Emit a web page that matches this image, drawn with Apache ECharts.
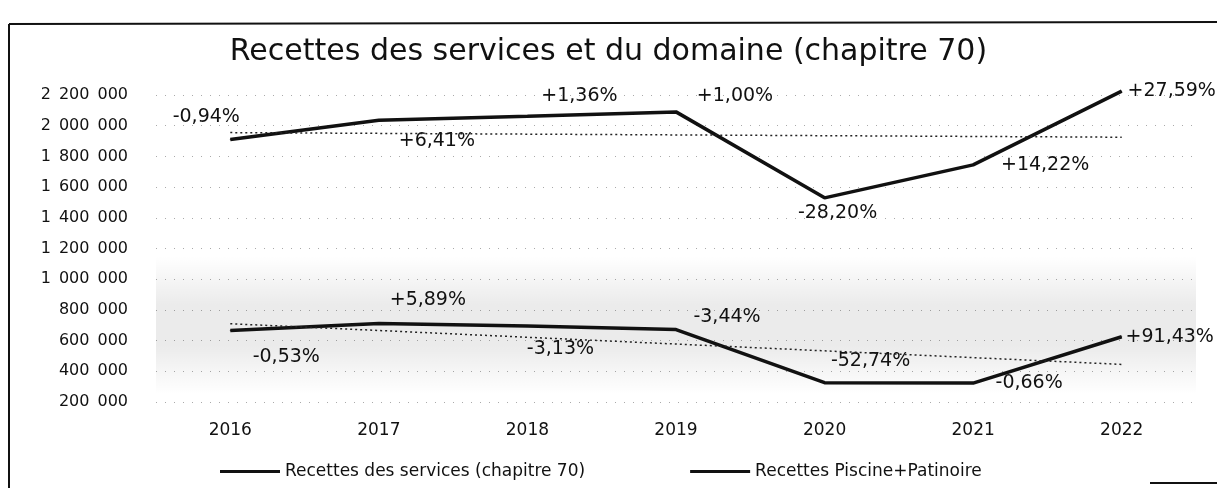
<!DOCTYPE html>
<html>
<head>
<meta charset="utf-8">
<script src="https://cdn.jsdelivr.net/npm/echarts@6/dist/echarts.min.js"></script>
<style>
  html, body { margin: 0; padding: 0; background: #fff; }
  #chart { width: 1217px; height: 488px; }
</style>
</head>
<body>
<div id="chart"></div>
<script>
// donnees
var annees = ['2016', '2017', '2018', '2019', '2020', '2021', '2022'];
var recettesServices = [1910000, 2035000, 2062000, 2090000, 1530000, 1745000, 2225000];
var recettesPiscine = [665000, 712000, 695000, 672000, 326000, 323000, 625000];
var pctServices = ['-0,94%', '+6,41%', '+1,36%', '+1,00%', '-28,20%', '+14,22%', '+27,59%'];
var pctPiscine = ['-0,53%', '+5,89%', '-3,13%', '-3,44%', '-52,74%', '-0,66%', '+91,43%'];
// courbes de tendance (debut 2016, fin 2022)
var tendanceServices = [1955000, 1925000];
var tendancePiscine = [710000, 445000];
var yTicks = [200000, 2200000, 200000]; // min, max, pas

// decalage des etiquettes (px)
var offServices = [[-24, -22], [58, 21], [52, -20], [59, -16], [13, 15], [72, 0], [50, 0]];
var offPiscine = [[56, 26], [49, -23], [33, 23], [51, -12], [46, -22], [56, 0], [48, 0]];

var FONT = 'DejaVu Sans';

function points(vals, pcts, offs) {
    return vals.map(function (v, i) {
        return {
            value: v,
            label: {
                show: true,
                formatter: pcts[i],
                position: 'inside',
                offset: offs[i]
            }
        };
    });
}

function fmt(v) {
    return String(v).replace(/\B(?=(\d{3})+(?!\d))/g, '\u2002');
}

var myChart = echarts.init(document.getElementById('chart'));

var bande = {
    type: 'linear', x: 0, y: 0, x2: 0, y2: 1,
    colorStops: [
        { offset: 0, color: 'rgba(0,0,0,0)' },
        { offset: 0.35, color: 'rgba(0,0,0,0.08)' },
        { offset: 0.65, color: 'rgba(0,0,0,0.08)' },
        { offset: 1, color: 'rgba(0,0,0,0)' }
    ]
};

var option = {
    backgroundColor: '#fff',
    animation: false,
    title: {
        text: 'Recettes des services et du domaine (chapitre 70)',
        left: 'center',
        top: 32,
        textStyle: { fontFamily: FONT, fontSize: 30, fontWeight: 'normal', color: '#111' }
    },
    grid: {
        left: 156,
        right: 21,
        top: 95,
        bottom: 86
    },
    legend: {
        data: ['Recettes des services (chapitre 70)', 'Recettes Piscine+Patinoire'],
        left: 215,
        top: 458,
        icon: 'rect',
        itemWidth: 60,
        itemHeight: 3,
        itemGap: 105,
        textStyle: { fontFamily: FONT, fontSize: 17, color: '#111' }
    },
    xAxis: [
        {
            type: 'category',
            data: annees,
            axisLine: { show: false },
            axisTick: { show: false },
            axisLabel: { fontFamily: FONT, fontSize: 17, color: '#111', margin: 20 }
        }
    ],
    yAxis: [
        {
            type: 'value',
            min: yTicks[0],
            max: yTicks[1],
            interval: yTicks[2],
            axisLine: { show: false },
            axisTick: { show: false },
            axisLabel: { fontFamily: FONT, fontSize: 16, color: '#111', margin: 28, formatter: fmt },
            splitLine: { lineStyle: { color: '#aaa', type: [1, 8], width: 1 } }
        }
    ],
    series: [
        {
            name: 'Recettes des services (chapitre 70)',
            type: 'line',
            color: '#111',
            clip: false,
            symbol: 'circle',
            symbolSize: 1,
            lineStyle: { width: 3.5, color: '#111' },
            label: { fontFamily: FONT, fontSize: 19, color: '#111' },
            data: points(recettesServices, pctServices, offServices),
            markLine: {
                silent: true,
                symbol: 'none',
                label: { show: false },
                lineStyle: { color: '#222', type: [2, 3], width: 1.5 },
                data: [[
                    { coord: [annees[0], tendanceServices[0]] },
                    { coord: [annees[annees.length - 1], tendanceServices[1]] }
                ]]
            }
        },
        {
            name: 'Recettes Piscine+Patinoire',
            type: 'line',
            color: '#111',
            clip: false,
            symbol: 'circle',
            symbolSize: 1,
            lineStyle: { width: 3.5, color: '#111' },
            label: { fontFamily: FONT, fontSize: 19, color: '#111' },
            data: points(recettesPiscine, pctPiscine, offPiscine),
            markLine: {
                silent: true,
                symbol: 'none',
                label: { show: false },
                lineStyle: { color: '#222', type: [2, 3], width: 1.5 },
                data: [[
                    { coord: [annees[0], tendancePiscine[0]] },
                    { coord: [annees[annees.length - 1], tendancePiscine[1]] }
                ]]
            },
            markArea: {
                silent: true,
                itemStyle: { color: bande },
                data: [[{ yAxis: 1150000 }, { yAxis: 250000 }]]
            }
        }
    ],
    graphic: [
        { type: 'line', shape: { x1: 9, y1: 24, x2: 9, y2: 488 }, style: { stroke: '#111', lineWidth: 2 } },
        { type: 'line', shape: { x1: 9, y1: 24, x2: 1217, y2: 22 }, style: { stroke: '#111', lineWidth: 2 } },
        { type: 'line', shape: { x1: 1150, y1: 483, x2: 1217, y2: 483 }, style: { stroke: '#111', lineWidth: 2 } }
    ]
};

if (option && typeof option === "object") {
    myChart.setOption(option, true);
}
</script>
</body>
</html>
